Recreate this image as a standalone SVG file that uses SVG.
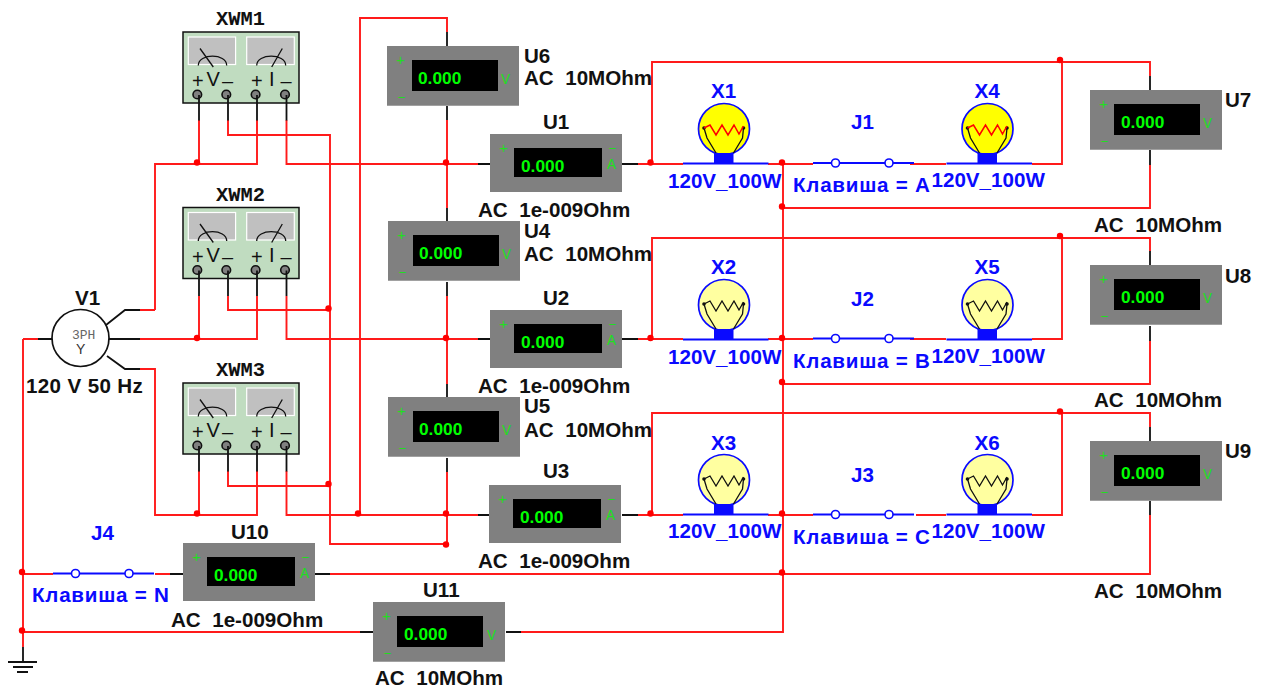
<svg xmlns="http://www.w3.org/2000/svg" width="1267" height="687" viewBox="0 0 1267 687">
<style>
text{font-family:"Liberation Sans",Arial,sans-serif;font-weight:bold;font-size:20.6px;white-space:pre}
.k{fill:#111}
.b{fill:#0a0aff}
.c{letter-spacing:.75px}
.m{font-family:"Liberation Mono","Courier New",monospace;font-size:20.400px;fill:#111}
.r{fill:none;stroke:#ff1a1a;stroke-width:1.900}
.l{fill:none;stroke:#111;stroke-width:1.800}
.w{fill:none;stroke:#0a0aff;stroke-width:1.800}
.g{fill:#00ff00;font-size:17.300px}
.u{fill:#22dd22;font-family:"Liberation Mono",monospace;font-weight:normal;font-size:15px}
.s{fill:#111;font-weight:normal;font-size:20px}
.n{fill:none;stroke:#111;stroke-width:1.300}
.j{fill:#ff0000}
</style>
<defs>
<g id="meter"><rect width="132" height="58" fill="#808080"/></g>
<g id="ind">
<rect x="5.300" y="5" width="47.300" height="27.500" fill="#c0c0c0" stroke="#fff" stroke-width="1.200"/>
<rect x="63.700" y="5" width="47.600" height="27.500" fill="#c0c0c0" stroke="#fff" stroke-width="1.200"/>
<path class="n" d="M17 16.500L30.300 35M15.300 33.500C15.300 21 43.700 21 43.700 33.500M99.300 16.500L88.700 35M73.700 33.500C73.700 21 102.700 21 102.700 33.500"/>
<circle cx="14.300" cy="62.500" r="4.300" fill="#808080" stroke="#111" stroke-width="1.600"/>
<circle cx="43.300" cy="62.500" r="4.300" fill="#808080" stroke="#111" stroke-width="1.600"/>
<circle cx="72.600" cy="62.500" r="4.300" fill="#808080" stroke="#111" stroke-width="1.600"/>
<circle cx="102" cy="62.500" r="4.300" fill="#808080" stroke="#111" stroke-width="1.600"/>
<path class="l" d="M16 63V88.500M45 63V88.500M74 63V88.500M103.500 63V88.500"/>
</g>
<g id="bulbbase"><rect x="-10" y="24" width="19.500" height="10" fill="#0a0aff"/><path class="w" d="M-41 34.500H44.500"/></g>
<g id="fil"><path class="n" d="M-20 -1L-17 9L-8 24M19.500 -1L18.500 9L9.500 24"/><circle cx="-20" cy="-1" r="1.800" fill="#111"/><circle cx="19.500" cy="-1" r="1.800" fill="#111"/></g>
<g id="sw"><path class="w" d="M0 0H18.500M26.500 0H72M80 0H101"/><circle cx="22.500" cy="0" r="4" fill="#fff" stroke="#0a0aff" stroke-width="1.600"/><circle cx="76" cy="0" r="4" fill="#fff" stroke="#0a0aff" stroke-width="1.600"/></g>
</defs>

<g id="connectors">
<path class="r" d="M199 120V164M155 310V164H257V120M228 120V135H330V544H447M286.500 120V164H478"/>
<path class="r" d="M140 310H155M140 339H257V296M199 296V339M228 296V310H330M286.500 296V339H478"/>
<path class="r" d="M140 369H155V515H257V471M199 471V515M228 471V486H330M286.500 471V515H478"/>
<path class="r" d="M360 515V18H447V32M447 120V208M447 296V384M447 472V545"/>
<path class="r" d="M638 164H683M768 164H813M910 164H946M1032 164H1062V62H652V164M1062 62H1150V76M1150 165V208H783"/>
<path class="r" d="M638 339H683M768 339H813M910 339H946M1032 339H1062V238H652V339M1062 238H1150V251M1150 341V384H783"/>
<path class="r" d="M638 515H683M768 515H813M916 515H946M1032 515H1062V413H652V515M1062 413H1150V427M1150 515V574H330"/>
<path class="r" d="M783 162V632H521M23 339H38M23 339V647M23 574H53M155 574H170M23 632H360"/>
<path class="l" d="M447 32V46M447 106V120M447 208V221M447 282V296M447 384V397M447 458V472M478 164H491M622 164H638M478 339H491M622 339H638M478 515H490M622 515H638M170 574H184M315 574H330M360 632H374M506 632H521M1150 76V90M1150 150V165M1150 251V265M1150 326V341M1150 427V441M1150 501V515M38 339H52"/>
<path class="l" d="M109 339H140M106 325L125 310H140M107 356L125 369H140"/>
<g class="j">
<circle cx="197" cy="162.500" r="3.200"/><circle cx="197" cy="338" r="3.200"/><circle cx="197" cy="513.500" r="3.200"/>
<circle cx="328.500" cy="308.500" r="3.200"/><circle cx="328.500" cy="484" r="3.200"/><circle cx="358" cy="513.500" r="3.200"/>
<circle cx="446" cy="162.500" r="3.200"/><circle cx="446" cy="338" r="3.200"/><circle cx="446" cy="513.500" r="3.200"/><circle cx="446" cy="544.500" r="3.200"/>
<circle cx="650.500" cy="162.500" r="3.200"/><circle cx="650.500" cy="338" r="3.200"/><circle cx="650.500" cy="513.500" r="3.200"/>
<circle cx="782" cy="162.500" r="3.200"/><circle cx="782" cy="338" r="3.200"/><circle cx="782" cy="513.500" r="3.200"/>
<circle cx="782" cy="206.500" r="3.200"/><circle cx="782" cy="382" r="3.200"/><circle cx="782" cy="572.500" r="3.200"/>
<circle cx="1060" cy="60" r="3.200"/><circle cx="1060" cy="236" r="3.200"/><circle cx="1060" cy="411.500" r="3.200"/>
<circle cx="22" cy="572" r="3.200"/><circle cx="22" cy="630.500" r="3.200"/>
</g>
</g>

<g id="V1">
<circle cx="80.500" cy="338" r="28.500" fill="#fff" stroke="#111" stroke-width="1.700"/>
<text class="m" x="72" y="339" style="font-weight:normal;font-size:13px;fill:#666">3PH</text>
<text x="76" y="354" style="font-weight:normal;font-size:14px;fill:#333">Y</text>
<text class="k" x="75" y="305">V1</text>
<text class="k" x="26" y="393" style="letter-spacing:.35px">120 V 50 Hz</text>
</g>
<g id="ground"><path class="l" d="M23 647V662M8 662H37M13 667H33M17 672H28"/></g>

<g id="XWM1" transform="translate(183,32)">
<rect width="116" height="71" fill="#c0dcc0" stroke="#111" stroke-width="1.500"/><use href="#ind"/>
<text class="s" x="9" y="56">+</text><text class="s" x="23.500" y="54">V</text><text class="s" x="39" y="56">–</text><text class="s" x="68" y="56">+</text><text class="s" x="86" y="54">I</text><text class="s" x="97.500" y="56">–</text>
<text class="m" x="33" y="-7">XWM1</text>
</g>
<g id="XWM2" transform="translate(183,207.500)">
<rect width="116" height="71" fill="#c0dcc0" stroke="#111" stroke-width="1.500"/><use href="#ind"/>
<text class="s" x="9" y="56">+</text><text class="s" x="23.500" y="54">V</text><text class="s" x="39" y="56">–</text><text class="s" x="68" y="56">+</text><text class="s" x="86" y="54">I</text><text class="s" x="97.500" y="56">–</text>
<text class="m" x="33" y="-7">XWM2</text>
</g>
<g id="XWM3" transform="translate(183,383)">
<rect width="116" height="71" fill="#c0dcc0" stroke="#111" stroke-width="1.500"/><use href="#ind"/>
<text class="s" x="9" y="56">+</text><text class="s" x="23.500" y="54">V</text><text class="s" x="39" y="56">–</text><text class="s" x="68" y="56">+</text><text class="s" x="86" y="54">I</text><text class="s" x="97.500" y="56">–</text>
<text class="m" x="33" y="-7">XWM3</text>
</g>

<g id="U1" transform="translate(490,134)"><use href="#meter"/><rect x="24" y="14" width="88" height="29" fill="#000"/><text class="u" x="9" y="19">+</text><text class="u" x="118" y="18">–</text><text class="u" x="117" y="35">A</text><text class="g" x="31" y="38">0.000</text><text class="k" x="53" y="-5">U1</text><text class="k" x="-12" y="83">AC  1e-009Ohm</text></g>
<g id="U2" transform="translate(490,310)"><use href="#meter"/><rect x="24" y="14" width="88" height="29" fill="#000"/><text class="u" x="9" y="19">+</text><text class="u" x="118" y="18">–</text><text class="u" x="117" y="35">A</text><text class="g" x="31" y="38">0.000</text><text class="k" x="53" y="-5">U2</text><text class="k" x="-12" y="83">AC  1e-009Ohm</text></g>
<g id="U3" transform="translate(489,485)"><use href="#meter"/><rect x="24" y="14" width="88" height="29" fill="#000"/><text class="u" x="9" y="19">+</text><text class="u" x="118" y="18">–</text><text class="u" x="117" y="35">A</text><text class="g" x="31" y="38">0.000</text><text class="k" x="54" y="-7">U3</text><text class="k" x="-11" y="83">AC  1e-009Ohm</text></g>
<g id="U10" transform="translate(183,543)"><use href="#meter"/><rect x="24" y="14" width="88" height="29" fill="#000"/><text class="u" x="9" y="19">+</text><text class="u" x="118" y="18">–</text><text class="u" x="117" y="35">A</text><text class="g" x="31" y="38">0.000</text><text class="k" x="48" y="-4">U10</text><text class="k" x="-12" y="84">AC  1e-009Ohm</text></g>

<g id="U6" transform="translate(387,46)"><use href="#meter" transform="scale(1,1.030)"/><rect x="25" y="14" width="86" height="31" fill="#000"/><text class="u" x="9" y="19">+</text><text class="u" x="10" y="55">–</text><text class="u" x="114" y="38">V</text><text class="g" x="31" y="38">0.000</text><text class="k" x="137" y="17">U6</text><text class="k" x="137" y="39">AC  10MOhm</text></g>
<g id="U4" transform="translate(388,221)"><use href="#meter" transform="scale(1,1.030)"/><rect x="25" y="14" width="86" height="31" fill="#000"/><text class="u" x="9" y="19">+</text><text class="u" x="10" y="55">–</text><text class="u" x="114" y="38">V</text><text class="g" x="31" y="38">0.000</text><text class="k" x="136" y="17">U4</text><text class="k" x="136" y="40">AC  10MOhm</text></g>
<g id="U5" transform="translate(388,397)"><use href="#meter" transform="scale(1,1.030)"/><rect x="25" y="14" width="86" height="31" fill="#000"/><text class="u" x="9" y="19">+</text><text class="u" x="10" y="55">–</text><text class="u" x="114" y="38">V</text><text class="g" x="31" y="38">0.000</text><text class="k" x="136" y="16">U5</text><text class="k" x="136" y="40">AC  10MOhm</text></g>
<g id="U7" transform="translate(1090,90)"><use href="#meter" transform="scale(1,1.030)"/><rect x="24" y="14" width="86" height="31" fill="#000"/><text class="u" x="9" y="19">+</text><text class="u" x="10" y="55">–</text><text class="u" x="113" y="38">V</text><text class="g" x="31" y="38">0.000</text><text class="k" x="135" y="17">U7</text><text class="k" x="4" y="142">AC  10MOhm</text></g>
<g id="U8" transform="translate(1090,265)"><use href="#meter" transform="scale(1,1.030)"/><rect x="24" y="14" width="86" height="31" fill="#000"/><text class="u" x="9" y="19">+</text><text class="u" x="10" y="55">–</text><text class="u" x="113" y="38">V</text><text class="g" x="31" y="38">0.000</text><text class="k" x="135" y="18">U8</text><text class="k" x="4" y="142">AC  10MOhm</text></g>
<g id="U9" transform="translate(1090,441)"><use href="#meter" transform="scale(1,1.030)"/><rect x="24" y="14" width="86" height="31" fill="#000"/><text class="u" x="9" y="19">+</text><text class="u" x="10" y="55">–</text><text class="u" x="113" y="38">V</text><text class="g" x="31" y="38">0.000</text><text class="k" x="135" y="17">U9</text><text class="k" x="4" y="157">AC  10MOhm</text></g>
<g id="U11" transform="translate(373,602)"><use href="#meter" transform="scale(1,1.030)"/><rect x="24" y="14" width="86" height="31" fill="#000"/><text class="u" x="9" y="19">+</text><text class="u" x="10" y="55">–</text><text class="u" x="114" y="38">V</text><text class="g" x="31" y="38">0.000</text><text class="k" x="50" y="-5">U11</text><text class="k" x="2" y="83">AC  10MOhm</text></g>

<g id="X1" transform="translate(724,129)"><circle r="25.500" fill="#ffff00" stroke="#0a0aff" stroke-width="1.700"/><use href="#bulbbase"/><use href="#fil"/><path fill="none" stroke="#ff0000" stroke-width="1.500" d="M-20 -1L-14 -4L-8 6L-2 -4L4 6L10 -4L15 5L19.500 -3"/><text class="b" x="-13" y="-31">X1</text><text class="b" x="-56" y="59">120V_100W</text></g>
<g id="X4" transform="translate(987.500,129)"><circle r="25.500" fill="#ffff00" stroke="#0a0aff" stroke-width="1.700"/><use href="#bulbbase"/><use href="#fil"/><path fill="none" stroke="#ff0000" stroke-width="1.500" d="M-20 -1L-14 -4L-8 6L-2 -4L4 6L10 -4L15 5L19.500 -3"/><text class="b" x="-13" y="-31">X4</text><text class="b" x="-56" y="58">120V_100W</text></g>
<g id="X2" transform="translate(724,305)"><circle r="25.500" fill="#ffffa0" stroke="#0a0aff" stroke-width="1.700"/><use href="#bulbbase"/><use href="#fil"/><path class="n" d="M-20 -1L-14 -4L-8 6L-2 -4L4 6L10 -4L15 5L19.500 -3"/><text class="b" x="-13" y="-31">X2</text><text class="b" x="-56" y="59">120V_100W</text></g>
<g id="X5" transform="translate(987.500,305)"><circle r="25.500" fill="#ffffa0" stroke="#0a0aff" stroke-width="1.700"/><use href="#bulbbase"/><use href="#fil"/><path class="n" d="M-20 -1L-14 -4L-8 6L-2 -4L4 6L10 -4L15 5L19.500 -3"/><text class="b" x="-13" y="-31">X5</text><text class="b" x="-56" y="58">120V_100W</text></g>
<g id="X3" transform="translate(724,480)"><circle r="25.500" fill="#ffffa0" stroke="#0a0aff" stroke-width="1.700"/><use href="#bulbbase"/><use href="#fil"/><path class="n" d="M-20 -1L-14 -4L-8 6L-2 -4L4 6L10 -4L15 5L19.500 -3"/><text class="b" x="-13" y="-30">X3</text><text class="b" x="-56" y="58">120V_100W</text></g>
<g id="X6" transform="translate(987.500,480)"><circle r="25.500" fill="#ffffa0" stroke="#0a0aff" stroke-width="1.700"/><use href="#bulbbase"/><use href="#fil"/><path class="n" d="M-20 -1L-14 -4L-8 6L-2 -4L4 6L10 -4L15 5L19.500 -3"/><text class="b" x="-13" y="-30">X6</text><text class="b" x="-56" y="58">120V_100W</text></g>

<g id="J1" transform="translate(813,163)"><use href="#sw"/><text class="b" x="38" y="-34">J1</text><text class="b c" x="-20" y="29">Клавиша = A</text></g>
<g id="J2" transform="translate(813,338.500)"><use href="#sw"/><text class="b" x="38" y="-33">J2</text><text class="b c" x="-20" y="29">Клавиша = B</text></g>
<g id="J3" transform="translate(813,514.500)"><use href="#sw"/><text class="b" x="38" y="-33">J3</text><text class="b c" x="-20" y="29">Клавиша = C</text></g>
<g id="J4" transform="translate(53,573.500)"><use href="#sw"/><text class="b" x="38" y="-34">J4</text><text class="b c" x="-21" y="28">Клавиша = N</text></g>
</svg>
